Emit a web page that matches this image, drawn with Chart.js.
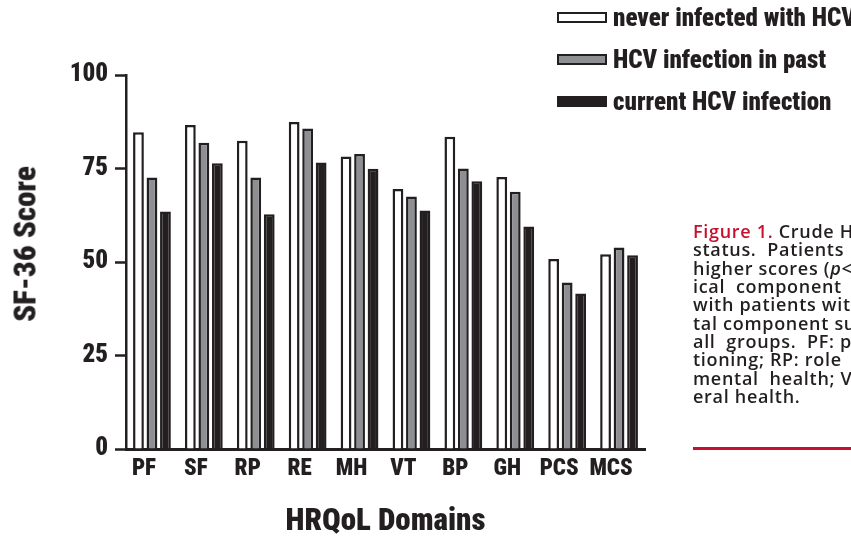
<!DOCTYPE html>
<html>
<head>
<meta charset="utf-8">
<script src="https://cdn.jsdelivr.net/npm/chart.js@4"></script>
<style>
    html, body { margin: 0; padding: 0; background: #fff; overflow: hidden; }
    #wrap { position: relative; width: 851px; height: 539px; }
    #chart { position: absolute; left: 0; top: 0; }
    #legend { position: absolute; left: 557px; top: -4px; font-family: "Roboto Condensed", sans-serif; font-weight: 900; font-size: 25px; color: #231f20; }
    #legend .row { height: 42px; display: flex; align-items: center; white-space: nowrap; }
    #legend .box { width: 46px; height: 7px; border: 2.5px solid #231f20; margin-right: 6px; }
    #ytitle { position: absolute; left: 25px; top: 244px; transform: translate(-50%, -50%) rotate(-90deg); font-family: "Roboto Condensed", sans-serif; font-weight: 900; font-size: 31px; color: #231f20; white-space: nowrap; }
    #caption { position: absolute; left: 693px; top: 222px; font-family: "Open Sans", sans-serif; font-weight: 600; font-size: 18px; line-height: 18.35px; letter-spacing: 0.7px; color: #231f20; white-space: nowrap; }
    #caption .fig { color: #c8102e; }
    #rule { position: absolute; left: 693px; top: 447px; width: 200px; height: 3px; background: #c8102e; }
</style>
</head>
<body>
<div id="wrap">
    <canvas id="chart" width="851" height="539"></canvas>
    <div id="legend"></div>
    <div id="ytitle">SF-36 Score</div>
    <div id="caption">
        <div><span class="fig">Figure 1.</span> Crude HRQoL</div>
        <div>status.&nbsp; Patients&nbsp; with</div>
        <div>higher scores (<i>p</i>&lt;</div>
        <div>ical&nbsp; component&nbsp; sum</div>
        <div>with patients with</div>
        <div>tal component sum</div>
        <div>all&nbsp; groups.&nbsp; PF: phys</div>
        <div>tioning; RP: role&nbsp; phy</div>
        <div>mental&nbsp; health; VT</div>
        <div>eral health.</div>
    </div>
    <div id="rule"></div>
</div>
<script>
// Data
const domains = ['PF', 'SF', 'RP', 'RE', 'MH', 'VT', 'BP', 'GH', 'PCS', 'MCS'];
const seriesNames = ['never infected with HCV', 'HCV infection in past', 'current HCV infection'];
const neverInfected = [84.7, 86.6, 82.4, 87.4, 78.2, 69.5, 83.5, 72.7, 50.8, 52.1];
const pastInfection = [72.6, 81.9, 72.6, 85.7, 78.9, 67.5, 75.0, 68.8, 44.5, 53.9];
const currentInfection = [63.5, 76.4, 62.8, 76.6, 74.9, 63.8, 71.6, 59.5, 41.6, 51.8];
const yTicks = [0, 25, 50, 75, 100];

const ink = '#231f20';
const fills = ['#ffffff', '#8e8f93', ink];
const condensed = '"Roboto Condensed", sans-serif';

const datasets = [neverInfected, pastInfection, currentInfection].map((values, i) => ({
    label: seriesNames[i],
    data: values,
    backgroundColor: fills[i],
    borderColor: ink,
    borderWidth: 2.5,
    borderSkipped: 'bottom',
    categoryPercentage: 0.78,
    barPercentage: 0.8
}));

// Legend (html)
const legend = document.getElementById('legend');
datasets.forEach(ds => {
    const row = document.createElement('div');
    row.className = 'row';
    const box = document.createElement('span');
    box.className = 'box';
    box.style.background = ds.backgroundColor;
    row.appendChild(box);
    row.appendChild(document.createTextNode(ds.label));
    legend.appendChild(row);
});

new Chart(document.getElementById('chart'), {
    type: 'bar',
    data: { labels: domains, datasets: datasets },
    options: {
        responsive: false,
        animation: false,
        layout: { padding: { top: 75, right: 206, left: 0, bottom: 0 } },
        plugins: {
            legend: { display: false },
            tooltip: { enabled: false }
        },
        scales: {
            x: {
                grid: { display: false, drawTicks: false },
                border: { display: true, color: ink, width: 3 },
                ticks: {
                    color: ink, padding: 6, maxRotation: 0, minRotation: 0, autoSkip: false, labelOffset: -8,
                    font: { family: condensed, weight: 900, size: 23 }
                },
                title: { display: true, text: 'HRQoL Domains', color: ink, padding: { top: 0, bottom: -2 }, font: { family: condensed, weight: 900, size: 31 } },
                afterFit: scale => { scale.height = 90; }
            },
            y: {
                min: 0,
                max: 100,
                afterBuildTicks: scale => { scale.ticks = yTicks.map(v => ({ value: v })); },
                grid: { drawOnChartArea: false, drawTicks: true, tickLength: 11, tickWidth: 2.5, tickColor: ink },
                border: { display: true, color: ink, width: 2.5 },
                ticks: { color: ink, padding: 7, font: { family: condensed, weight: 900, size: 25 } },
                afterFit: scale => { scale.width = 126; }
            }
        }
    }
});
</script>
</body>
</html>
